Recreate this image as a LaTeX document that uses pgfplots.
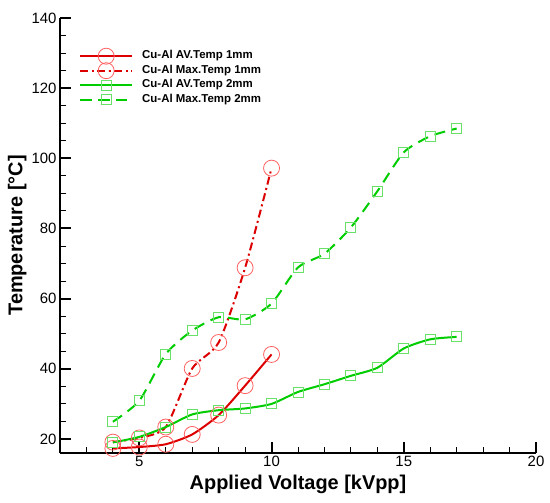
\documentclass[border=0pt]{standalone}
\usepackage{pgfplots}
\pgfplotsset{compat=1.18}
\usepackage{fontspec}
\setmainfont{Liberation Sans}
\definecolor{cred}{RGB}{220,0,0}
\definecolor{cgreen}{RGB}{0,205,0}
\definecolor{mred}{RGB}{255,95,95}
\definecolor{mgreen}{RGB}{105,225,105}
\begin{document}
\begin{tikzpicture}
\useasboundingbox (-60bp,-50bp) rectangle (490bp,453bp);
\begin{axis}[
  at={(0,0)}, anchor=south west,
  scale only axis, width=476bp, height=435bp,
  xmin=2, xmax=20, ymin=16, ymax=140,
  axis x line*=bottom, axis y line*=left,
  axis line style={-, line width=2bp},
  xtick={5,10,15,20}, ytick={20,40,60,80,100,120,140},
  minor xtick={3,4,6,7,8,9,11,12,13,14,16,17,18,19},
  minor ytick={25,30,35,45,50,55,65,70,75,85,90,95,105,110,115,125,130,135},
  tick align=inside,
  major tick length=11bp, minor tick length=6bp,
  major tick style={line width=2bp, black},
  minor tick style={line width=1bp, black},
  /pgf/number format/assume math mode=true,
  tick label style={font=\fontsize{15}{18}\selectfont},
  xlabel={Applied Voltage [kVpp]},
  ylabel={Temperature [°C]},
  label style={font=\bfseries\fontsize{20}{24}\selectfont},
  xlabel style={at={(axis description cs:0.5,-0.0828)}, anchor=base},
  ylabel style={at={(axis description cs:-0.079,0.5)}, anchor=base},
  legend image code/.code={\path (0bp,0bp) (52bp,0bp);\draw[overlay,mark repeat=2,mark phase=2,#1] plot coordinates {(0bp,0bp) (26bp,0bp) (52bp,0bp)};},
  legend style={draw=none, fill=none, inner sep=0pt,
    at={(axis description cs:0,1)}, anchor=north west, xshift=19bp, yshift=-33bp,
    nodes={inner sep=0pt, text height=7.5bp, text depth=2.5bp, font=\bfseries\fontsize{11.5}{13}\selectfont},
    row sep=4.5bp, column sep=9bp},
  legend cell align=left,
]
\addplot[cred, line width=2bp, smooth, tension=0.4, mark=o, mark size=8bp, mark options={solid, draw=mred, line width=0.8bp}]
  coordinates {(4,17.3) (5,17.7) (6,18.5) (7,21.3) (8,26.8) (9,35.2) (10,44.1)};
\addlegendentry{Cu-Al AV.Temp 1mm}
\addplot[cred, line width=2bp, smooth, tension=0.4, dash pattern=on 8bp off 3.5bp on 2bp off 3.5bp, mark=o, mark size=8bp, mark options={solid, draw=mred, line width=0.8bp}]
  coordinates {(4,19.1) (5,20.3) (6,23.4) (7,40.1) (8,47.5) (9,68.8) (10,97.2)};
\addlegendentry{Cu-Al Max.Temp 1mm}
\addplot[cgreen, line width=2bp, smooth, tension=0.4, mark=square, mark size=5bp, mark options={solid, draw=mgreen, line width=0.8bp}]
  coordinates {(4,19.0) (5,20.6) (6,23.4) (7,27.0) (8,28.2) (9,28.7) (10,30.0) (11,33.4) (12,35.6) (13,38.0) (14,40.3) (15,45.8) (16,48.4) (17,49.1)};
\addlegendentry{Cu-Al AV.Temp 2mm}
\addplot[cgreen, line width=2bp, smooth, tension=0.4, dash pattern=on 11bp off 7bp, mark=square, mark size=5bp, mark options={solid, draw=mgreen, line width=0.8bp}]
  coordinates {(4,24.9) (5,30.9) (6,44.2) (7,50.9) (8,54.7) (9,54.1) (10,58.6) (11,68.9) (12,72.8) (13,80.3) (14,90.6) (15,101.7) (16,106.3) (17,108.5)};
\addlegendentry{Cu-Al Max.Temp 2mm}
\end{axis}
\end{tikzpicture}
\end{document}
